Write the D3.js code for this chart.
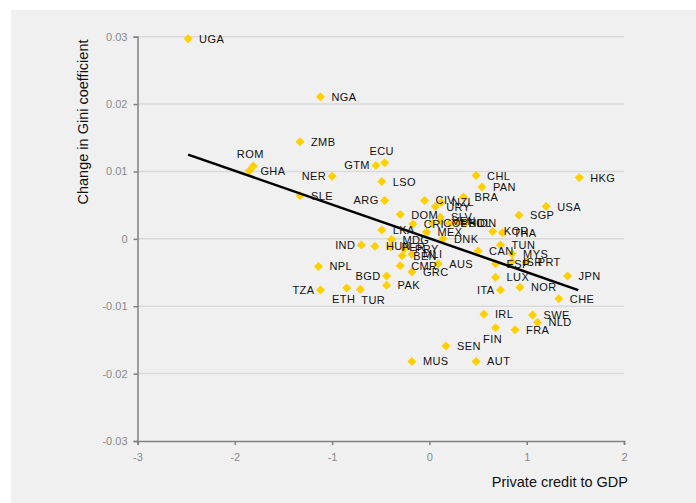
<!DOCTYPE html>
<html>
<head>
<meta charset="utf-8">
<script src="https://cdn.jsdelivr.net/npm/d3@7"></script>
<style>
  body { margin: 0; background: #ffffff; }
  svg text { font-family: "Liberation Sans", Arial, sans-serif; }
</style>
</head>
<body>
<div id="chart"></div>
<script>
// country codes, private credit to GDP (x), change in Gini coefficient (y)
var countries = ["UGA","NGA","ZMB","ROM","GHA","NER","GTM","ECU","LSO","SLE","ARG","CIV","URY","NZL","BRA","PAN","CHL","HKG","USA","SGP",
                 "DOM","SLV","CRI","COL","VEN","PHL","BOL","IDN","LKA","MDG","MEX","DNK","IND","HUN","PER","PRY","BEN","MLI",
                 "CMR","GRC","AUS","BGD","PAK","NPL","TZA","ETH","TUR","KOR","THA","TUN","CAN","MYS","ESP","ISR","PRT",
                 "LUX","ITA","NOR","JPN","CHE","IRL","SWE","NLD","FIN","FRA","SEN","MUS","AUT"];
var credit = [-2.48,-1.12,-1.33,-1.81,-1.85,-1.00,-0.55,-0.46,-0.49,-1.33,-0.46,-0.05,0.06,0.12,0.35,0.54,0.48,1.54,1.20,0.92,
              -0.30,0.11,-0.17,0.03,0.12,0.21,0.29,0.37,-0.49,-0.39,-0.03,0.14,-0.70,-0.56,-0.40,-0.26,-0.28,-0.18,
              -0.30,-0.18,0.09,-0.44,-0.44,-1.14,-1.12,-0.85,-0.71,0.65,0.75,0.73,0.50,0.85,0.68,0.85,1.00,
              0.68,0.73,0.93,1.42,1.33,0.56,1.06,1.11,0.68,0.88,0.17,-0.18,0.48];
var giniChange = [0.0297,0.0211,0.0144,0.0108,0.0101,0.0093,0.0109,0.0113,0.0085,0.0064,0.0057,0.0057,0.0048,0.0054,0.0062,0.0077,0.0094,0.0091,0.0048,0.0035,
                  0.0036,0.0032,0.0022,0.0023,0.0026,0.0023,0.0024,0.0023,0.0013,-0.0001,0.0010,0.0000,-0.0009,-0.0011,-0.0012,-0.0015,-0.0025,-0.0023,
                  -0.0040,-0.0049,-0.0037,-0.0055,-0.0069,-0.0041,-0.0076,-0.0073,-0.0075,0.0011,0.0009,-0.0009,-0.0018,-0.0022,-0.0037,-0.0034,-0.0034,
                  -0.0057,-0.0076,-0.0072,-0.0055,-0.0089,-0.0112,-0.0113,-0.0124,-0.0132,-0.0135,-0.0159,-0.0182,-0.0182];
// fitted line end points
var trendX = [-2.48, 1.53];
var trendY = [0.0125, -0.0076];
var xTicks = [-3, -2, -1, 0, 1, 2];
var yTicks = [-0.03, -0.02, -0.01, 0, 0.01, 0.02, 0.03];

var width = 696, height = 503;
var plotL = 137.5, plotR = 624, plotT = 36.7, plotB = 441;

// where a label sits if not to the right of its marker
var labelAt = { ROM: "t", ECU: "t", ETH: "b", TUR: "br", FIN: "b",
                ARG: "l", IND: "l", ITA: "l", TZA: "l", BGD: "l", GTM: "l", NER: "l" };

var svg = d3.select("#chart").append("svg")
    .attr("width", width)
    .attr("height", height);

svg.append("rect")
    .attr("x", 11).attr("y", 10)
    .attr("width", width - 11).attr("height", height - 10)
    .attr("fill", "#f0f0f0");

var x = d3.scaleLinear().domain([-3, 2]).range([plotL, plotR]);
var y = d3.scaleLinear().domain([-0.03, 0.03]).range([plotB, plotT]);

// gridlines
svg.selectAll(".grid")
    .data(yTicks.filter(function(d) { return d > -0.03; }))
    .enter().append("line")
    .attr("x1", plotL).attr("x2", plotR)
    .attr("y1", function(d) { return y(d); })
    .attr("y2", function(d) { return y(d); })
    .attr("stroke", "#d9d9d9")
    .attr("stroke-width", 1.5);

var yAxis = svg.append("g")
    .attr("transform", "translate(" + plotL + ",0)")
    .call(d3.axisLeft(y).tickValues(yTicks).tickSize(4).tickPadding(6)
        .tickFormat(function(d) { return d === 0 ? "0" : d3.format(".2f")(d).replace("\u2212", "-"); }));

var xAxis = svg.append("g")
    .attr("transform", "translate(0," + plotB + ")")
    .call(d3.axisBottom(x).tickValues(xTicks).tickSize(4).tickPadding(8)
        .tickFormat(function(d) { return String(d); }));

[yAxis, xAxis].forEach(function(g) {
    g.select(".domain").attr("stroke", "#808080").attr("stroke-width", 1.5);
    g.selectAll(".tick line").attr("stroke", "#808080").attr("stroke-width", 1.5);
    g.selectAll(".tick text").attr("fill", "#8a8a8a")
        .style("font-family", "'Liberation Sans', Arial, sans-serif")
        .style("font-size", "11px");
});

var pts = countries.map(function(c, i) { return { name: c, x: credit[i], y: giniChange[i] }; });

svg.selectAll(".pt")
    .data(pts)
    .enter().append("path")
    .attr("class", "pt")
    .attr("d", d3.symbol().type(d3.symbolDiamond2).size(52))
    .attr("transform", function(d) { return "translate(" + x(d.x) + "," + y(d.y) + ")"; })
    .attr("fill", "#ffd000");

svg.append("line")
    .attr("x1", x(trendX[0])).attr("y1", y(trendY[0]))
    .attr("x2", x(trendX[1])).attr("y2", y(trendY[1]))
    .attr("stroke", "#000")
    .attr("stroke-width", 2.5);

svg.selectAll(".lbl")
    .data(pts)
    .enter().append("text")
    .attr("class", "lbl")
    .text(function(d) { return d.name; })
    .attr("x", function(d) {
        var p = labelAt[d.name];
        if (p === "l") return x(d.x) - 6;
        if (p === "t" || p === "b") return x(d.x) - 3;
        if (p === "br") return x(d.x) + 1;
        return x(d.x) + 11;
    })
    .attr("y", function(d) {
        var p = labelAt[d.name];
        if (p === "t") return y(d.y) - 8;
        if (p === "b" || p === "br") return y(d.y) + 15;
        return y(d.y) + 4;
    })
    .style("text-anchor", function(d) {
        var p = labelAt[d.name];
        return p === "l" ? "end" : (p === "t" || p === "b") ? "middle" : "start";
    })
    .style("font-size", "11px")
    .style("letter-spacing", "0.4px")
    .attr("fill", "#111");

svg.append("text")
    .attr("transform", "translate(88,122) rotate(-90)")
    .style("text-anchor", "middle")
    .style("font-size", "14.5px")
    .attr("fill", "#111")
    .text("Change in Gini coefficient");

svg.append("text")
    .attr("x", 628).attr("y", 487)
    .style("text-anchor", "end")
    .style("font-size", "14.5px")
    .attr("fill", "#111")
    .text("Private credit to GDP");
</script>
</body>
</html>
